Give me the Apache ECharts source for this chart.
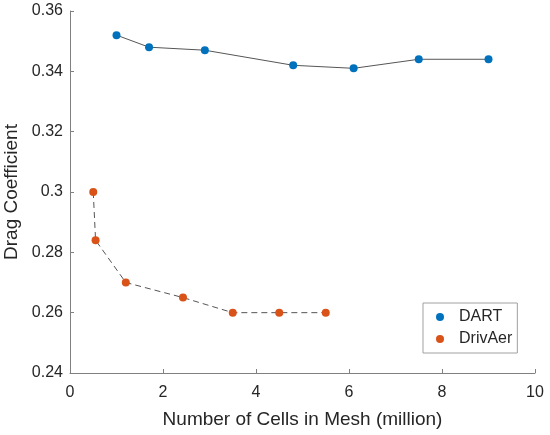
<!DOCTYPE html>
<html>
<head>
<meta charset="utf-8">
<script src="https://cdn.jsdelivr.net/npm/echarts@6/dist/echarts.min.js"></script>
<style>
  html, body { margin: 0; padding: 0; background: #fff; }
  #chart { width: 550px; height: 435px; }
</style>
</head>
<body>
<div id="chart"></div>
<script>
// data
var dartCells = [1.0, 1.7, 2.9, 4.8, 6.1, 7.5, 9.0];
var dartCd = [0.352, 0.348, 0.347, 0.342, 0.341, 0.344, 0.344];
var drivCells = [0.5, 0.55, 1.2, 2.43, 3.5, 4.5, 5.5];
var drivCd = [0.300, 0.284, 0.270, 0.265, 0.260, 0.260, 0.260];
var xTicks = [0, 2, 4, 6, 8, 10];
var yTicks = [0.24, 0.26, 0.28, 0.3, 0.32, 0.34, 0.36];

function pairs(xs, ys) {
  return xs.map(function (x, i) { return [x, ys[i]]; });
}

var font = 'Liberation Sans, Arial, sans-serif';
var axisGray = '#808080';
var textCol = '#262626';

var chart = echarts.init(document.getElementById('chart'));
chart.setOption({
  animation: false,
  // keep the plot box fixed, labels may sit outside it
  grid: { left: 70, right: 15, top: 11, bottom: 62, containLabel: false, outerBoundsMode: 'none' },
  xAxis: {
    type: 'value',
    min: xTicks[0],
    max: xTicks[xTicks.length - 1],
    interval: 2,
    name: 'Number of Cells in Mesh (million)',
    nameLocation: 'middle',
    nameGap: 37,
    nameTextStyle: { fontFamily: font, fontSize: 19, color: textCol },
    axisLine: { show: true, lineStyle: { color: axisGray, width: 1 } },
    axisTick: { show: true, inside: true, length: 4, lineStyle: { color: axisGray } },
    axisLabel: { fontFamily: font, fontSize: 16, color: textCol, margin: 12 },
    splitLine: { show: false }
  },
  yAxis: {
    type: 'value',
    min: yTicks[0],
    max: yTicks[yTicks.length - 1],
    interval: 0.02,
    name: 'Drag Coefficient',
    nameLocation: 'middle',
    nameGap: 47,
    nameTextStyle: { fontFamily: font, fontSize: 19, color: textCol },
    axisLine: { show: true, lineStyle: { color: axisGray, width: 1 } },
    axisTick: { show: true, inside: true, length: 4, lineStyle: { color: axisGray } },
    axisLabel: {
      fontFamily: font, fontSize: 16, color: textCol, margin: 7,
      formatter: function (v) { return String(+v.toFixed(2)); }
    },
    splitLine: { show: false }
  },
  legend: {
    orient: 'vertical',
    left: 423,
    top: 303,
    padding: [6, 5, 6, 13],
    itemGap: 6,
    itemWidth: 8,
    itemHeight: 8,
    icon: 'circle',
    borderColor: '#a0a0a0',
    borderWidth: 1,
    backgroundColor: '#fff',
    textStyle: { fontFamily: font, fontSize: 16, color: textCol, padding: [0, 0, 0, 10] },
    data: [
      { name: 'DART', itemStyle: { color: '#0072BD' } },
      { name: 'DrivAer', itemStyle: { color: '#D95319' } }
    ]
  },
  series: [
    {
      name: 'DART',
      type: 'line',
      data: pairs(dartCells, dartCd),
      symbol: 'circle',
      symbolSize: 8,
      itemStyle: { color: '#0072BD' },
      lineStyle: { color: '#555555', width: 1 }
    },
    {
      name: 'DrivAer',
      type: 'line',
      data: pairs(drivCells, drivCd),
      symbol: 'circle',
      symbolSize: 8,
      itemStyle: { color: '#D95319' },
      lineStyle: { color: '#555555', width: 1, type: [6, 4] }
    }
  ]
});
</script>
</body>
</html>
